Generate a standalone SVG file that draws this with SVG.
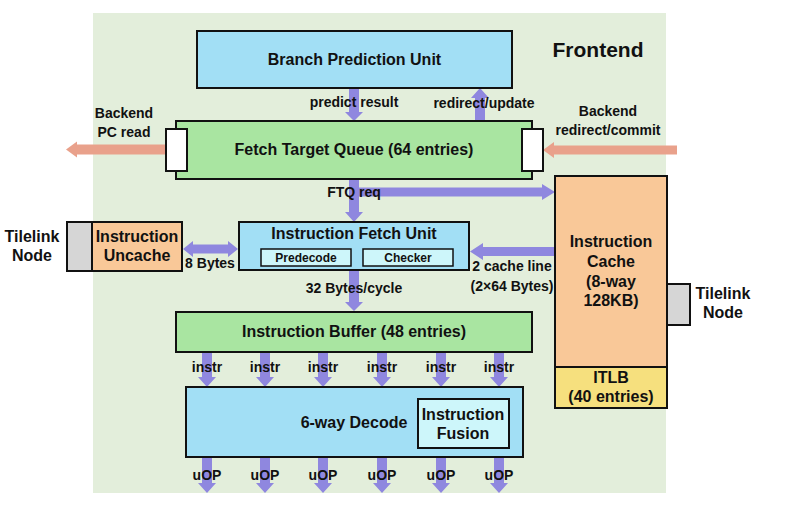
<svg xmlns="http://www.w3.org/2000/svg" width="785" height="512" viewBox="0 0 785 512">
<style>
.box{stroke:#111;stroke-width:2}
.blue{fill:#a2dff5}
.green{fill:#a9e5a1}
.orange{fill:#f9c898}
.gray{fill:#d6d6d6}
.white{fill:#ffffff}
.light{fill:#cdf6fa}
.yellow{fill:#f6e07e}
.pa{fill:#8f87df}
.sa{fill:#e9a18b}
text{font-family:"Liberation Sans",Arial,sans-serif;font-weight:bold;fill:#111;text-anchor:middle}
.t{font-size:16px}
.l{font-size:14px}
.s{font-size:12px}
</style>
<rect width="785" height="512" fill="#ffffff"/>
<rect x="93" y="13" width="573" height="480" fill="#e3eedb"/>
<text x="598" y="57" style="font-size:21px">Frontend</text>

<g id="connectors">
  <!-- predict result -->
  <polygon class="pa" points="349,89 359,89 359,112 363,112 354,121 345,112 349,112"/>
  <!-- redirect/update -->
  <polygon class="pa" points="475,121 485,121 485,98 489,98 480,88 471,98 475,98"/>
  <!-- FTQ req down -->
  <polygon class="pa" points="349,180 359,180 359,212 363,212 354,222 345,212 349,212"/>
  <!-- FTQ req right to ICache -->
  <polygon class="pa" points="354,187.5 542,187.5 542,184 555,192 542,200 542,196.5 354,196.5"/>
  <!-- 8 Bytes double -->
  <polygon class="pa" points="183,249 193,241 193,244.5 228,244.5 228,241 238,249 228,257 228,253.5 193,253.5 193,257"/>
  <!-- 2 cache line -->
  <polygon class="pa" points="555,247 483,247 483,243 470,251.5 483,260 483,256 555,256"/>
  <!-- 32 Bytes/cycle -->
  <polygon class="pa" points="349,271 359,271 359,302 363,302 354,311 345,302 349,302"/>
  <!-- instr arrows -->
  <polygon class="pa" points="202,353 212,353 212,377 216,377 207,387 198,377 202,377"/>
  <polygon class="pa" points="260,353 270,353 270,377 274,377 265,387 256,377 260,377"/>
  <polygon class="pa" points="318,353 328,353 328,377 332,377 323,387 314,377 318,377"/>
  <polygon class="pa" points="377,353 387,353 387,377 391,377 382,387 373,377 377,377"/>
  <polygon class="pa" points="436,353 446,353 446,377 450,377 441,387 432,377 436,377"/>
  <polygon class="pa" points="494,353 504,353 504,377 508,377 499,387 490,377 494,377"/>
  <!-- uOP arrows -->
  <polygon class="pa" points="202,458 212,458 212,483 216,483 207,493 198,483 202,483"/>
  <polygon class="pa" points="260,458 270,458 270,483 274,483 265,493 256,483 260,483"/>
  <polygon class="pa" points="318,458 328,458 328,483 332,483 323,493 314,483 318,483"/>
  <polygon class="pa" points="377,458 387,458 387,483 391,483 382,493 373,483 377,483"/>
  <polygon class="pa" points="436,458 446,458 446,483 450,483 441,493 432,483 436,483"/>
  <polygon class="pa" points="494,458 504,458 504,483 508,483 499,493 490,483 494,483"/>
  <!-- Backend PC read -->
  <polygon class="sa" points="165,144.5 77,144.5 77,141.5 66,149.5 77,157.5 77,154.5 165,154.5"/>
  <!-- Backend redirect/commit -->
  <polygon class="sa" points="677,145.5 554,145.5 554,142 543,150 554,158 554,154.5 677,154.5"/>
</g>

<g id="labels">
  <text class="l" x="354" y="107">predict result</text>
  <text class="l" x="484" y="108">redirect/update</text>
  <text class="l" x="124" y="118">Backend</text>
  <text class="l" x="124" y="137">PC read</text>
  <text class="l" x="608" y="116">Backend</text>
  <text class="l" x="608" y="135">redirect/commit</text>
  <text class="l" x="354" y="197">FTQ req</text>
  <text class="l" x="210" y="268">8 Bytes</text>
  <text class="l" x="354" y="293">32 Bytes/cycle</text>
  <text class="l" x="512" y="271">2 cache line</text>
  <text class="l" x="512" y="291">(2×64 Bytes)</text>
  <text class="l" x="207" y="372">instr</text>
  <text class="l" x="265" y="372">instr</text>
  <text class="l" x="323" y="372">instr</text>
  <text class="l" x="382" y="372">instr</text>
  <text class="l" x="441" y="372">instr</text>
  <text class="l" x="499" y="372">instr</text>
  <text class="l" x="207" y="480">uOP</text>
  <text class="l" x="265" y="480">uOP</text>
  <text class="l" x="323" y="480">uOP</text>
  <text class="l" x="382" y="480">uOP</text>
  <text class="l" x="441" y="480">uOP</text>
  <text class="l" x="499" y="480">uOP</text>
</g>

<g id="bpu">
  <rect class="box blue" x="197" y="31" width="315" height="57"/>
  <text class="t" x="354.5" y="65">Branch Prediction Unit</text>
</g>

<g id="ftq">
  <rect class="box green" x="176" y="121" width="356" height="58"/>
  <text class="t" x="354" y="155">Fetch Target Queue (64 entries)</text>
  <rect class="box white" x="166" y="129" width="21" height="42"/>
  <rect class="box white" x="522" y="129" width="21" height="42"/>
</g>

<g id="ifu">
  <rect class="box blue" x="239" y="222" width="230" height="48"/>
  <text class="t" x="354" y="239">Instruction Fetch Unit</text>
  <rect class="box light" x="261" y="249" width="90" height="17" style="stroke-width:1.5"/>
  <text class="s" x="306" y="262">Predecode</text>
  <rect class="box light" x="363" y="249" width="90" height="17" style="stroke-width:1.5"/>
  <text class="s" x="408" y="262">Checker</text>
</g>

<g id="uncache">
  <rect class="box gray" x="67" y="222" width="25" height="49"/>
  <rect class="box orange" x="92" y="222" width="90" height="49"/>
  <text class="t" x="137" y="242">Instruction</text>
  <text class="t" x="137" y="261">Uncache</text>
  <text class="t" x="32" y="242">Tilelink</text>
  <text class="t" x="32" y="261">Node</text>
</g>

<g id="icache">
  <rect class="box orange" x="555" y="176" width="112" height="191"/>
  <text class="t" x="611" y="247">Instruction</text>
  <text class="t" x="611" y="267">Cache</text>
  <text class="t" x="611" y="287">(8-way</text>
  <text class="t" x="611" y="306">128KB)</text>
  <rect class="box yellow" x="555" y="367" width="112" height="41"/>
  <text class="t" x="611" y="383">ITLB</text>
  <text class="t" x="611" y="402">(40 entries)</text>
  <rect class="box gray" x="667" y="284" width="23" height="41"/>
  <text class="t" x="723" y="299">Tilelink</text>
  <text class="t" x="723" y="318">Node</text>
</g>

<g id="ibuf">
  <rect class="box green" x="176" y="312" width="356" height="40"/>
  <text class="t" x="354" y="337">Instruction Buffer (48 entries)</text>
</g>

<g id="decode">
  <rect class="box blue" x="186" y="387" width="337" height="70"/>
  <text class="t" x="354" y="428">6-way Decode</text>
  <rect class="box light" x="418" y="399" width="91" height="49"/>
  <text class="t" x="463" y="420">Instruction</text>
  <text class="t" x="463" y="439">Fusion</text>
</g>
</svg>
